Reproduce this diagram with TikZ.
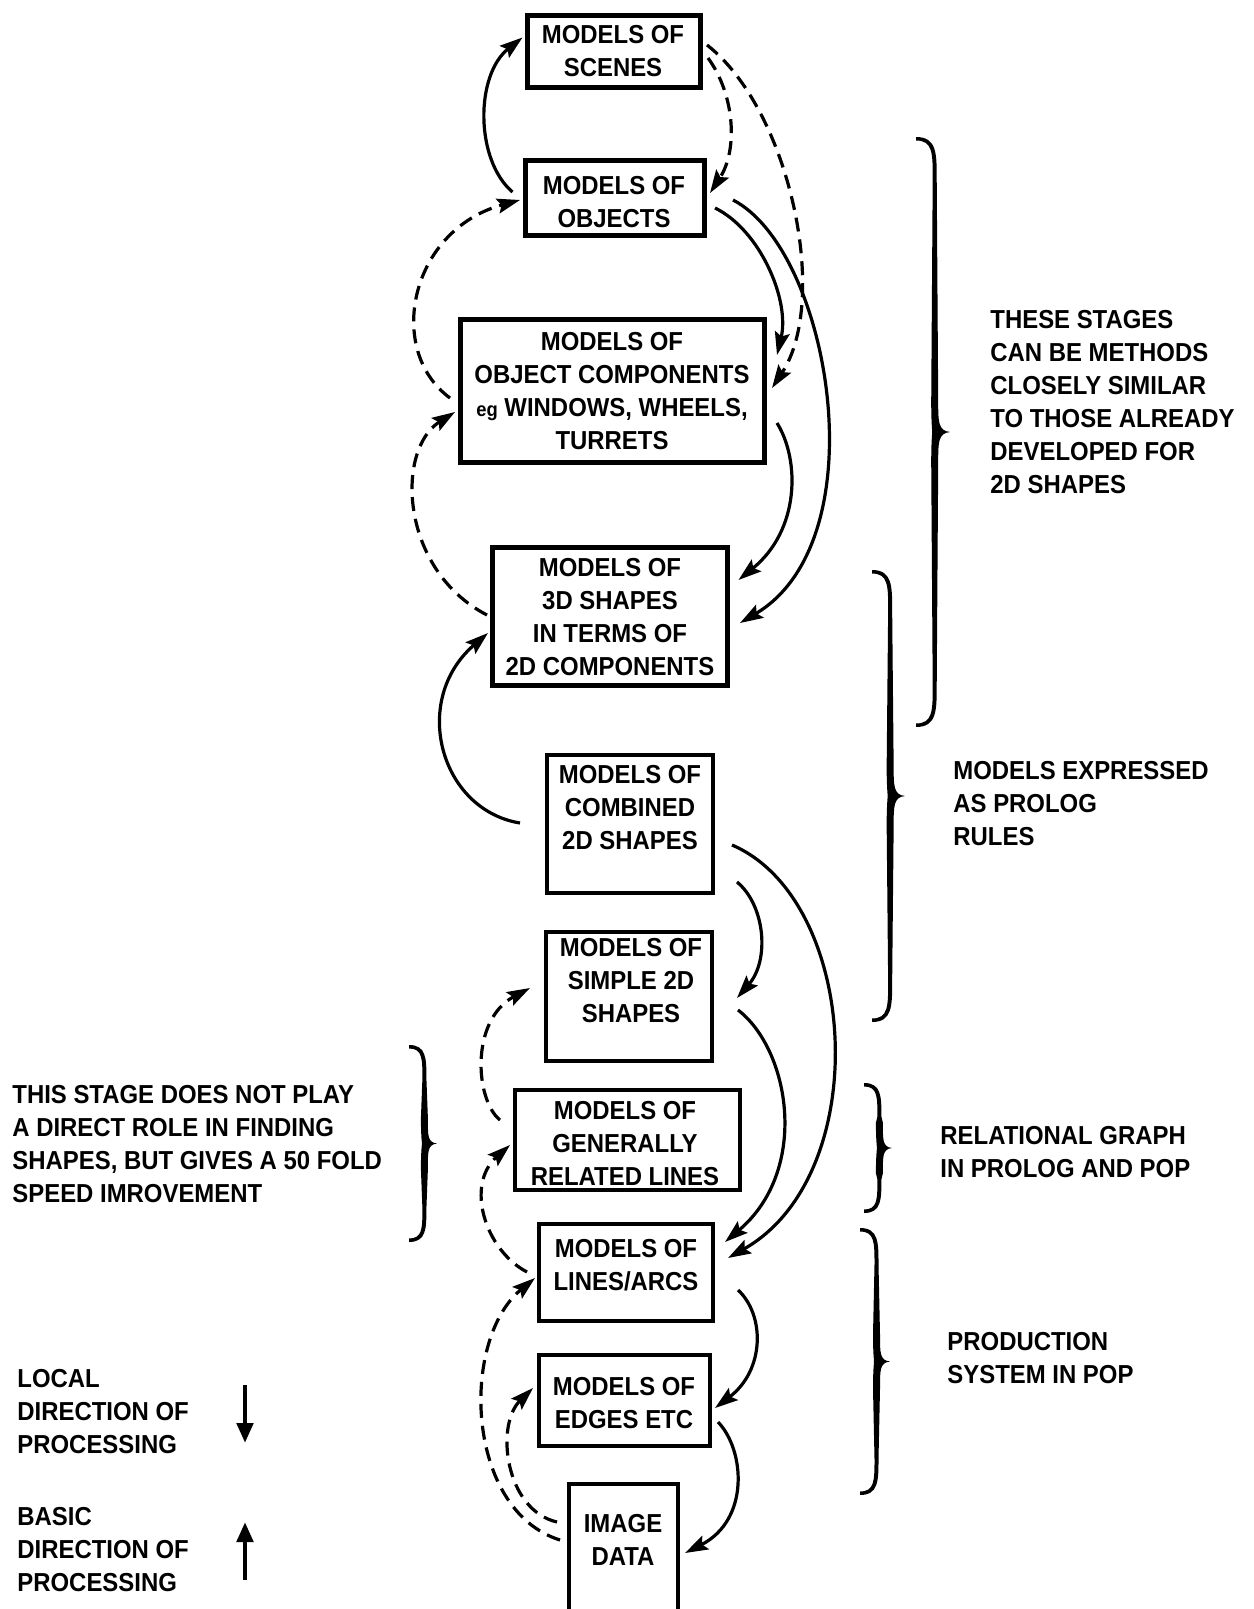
\documentclass[tikz,border=0pt]{standalone}
\usepackage{fontspec}
\setmainfont{Liberation Sans}[FakeStretch=0.92]
\usetikzlibrary{arrows.meta,calc}
\newcommand\hbrace[4]{%
  \pgfmathsetmacro\hbM{(#2+#3)/2}%
  \pgfmathsetmacro\hbS{#1+0.55*#4}%
  \pgfmathsetmacro\hbT{#1+#4}%
  \pgfmathsetmacro\hbR{1.2*#4}%
  \pgfmathsetmacro\hbQ{0.9*#4}%
  \fill (#1,#2) .. controls (\hbS+2,#2) and (\hbS+2,#2+0.4*\hbR) .. (\hbS+2,#2+\hbR)
    -- (\hbS+3.5,\hbM-\hbQ) .. controls (\hbS+3.5,\hbM-0.35*\hbQ) and (\hbT-0.35*#4,\hbM-1) .. (\hbT,\hbM)
    .. controls (\hbT-0.35*#4,\hbM+1) and (\hbS+3.5,\hbM+0.35*\hbQ) .. (\hbS+3.5,\hbM+\hbQ)
    -- (\hbS+2,#3-\hbR) .. controls (\hbS+2,#3-0.4*\hbR) and (\hbS+2,#3) .. (#1,#3)
    -- (#1,#3-3.5) .. controls (\hbS-2,#3-3.5) and (\hbS-2,#3-0.4*\hbR) .. (\hbS-2,#3-\hbR)
    -- (\hbS-3.5,\hbM+\hbQ) .. controls (\hbS-3.5,\hbM+0.3*\hbQ) and (\hbS-2.5,\hbM+2) .. (\hbS-2.5,\hbM)
    .. controls (\hbS-2.5,\hbM-2) and (\hbS-3.5,\hbM-0.3*\hbQ) .. (\hbS-3.5,\hbM-\hbQ)
    -- (\hbS-2,#2+\hbR) .. controls (\hbS-2,#2+0.4*\hbR) and (\hbS-2,#2+3.5) .. (#1,#2+3.5) -- cycle;}
\tikzset{
  box/.style={draw, line width=2.1pt, inner sep=0pt, outer sep=0pt},
  topbox/.style={box, line width=2.5pt},
  lbl/.style={font=\bfseries\fontsize{13}{16.5}\selectfont, align=center, inner sep=0pt},
  side/.style={lbl, align=left, anchor=west},
  sarrow/.style={line width=1.6pt, -{Stealth[length=11.5pt,width=7.5pt,inset=2pt]}},
  darrow/.style={sarrow, dash pattern=on 7pt off 4pt},
  legarrow/.style={line width=2.4pt, -{Triangle[length=10pt,width=8pt]}}
}
\begin{document}
\begin{tikzpicture}[x=0.5pt,y=-0.5pt]
\useasboundingbox (0,0) rectangle (1253,1609);
% boxes
\node[topbox, minimum width=86.5pt, minimum height=36pt] (scn) at (614,51.5) {};
\node[topbox, minimum width=89.5pt, minimum height=37.5pt] (obj) at (615,198) {};
\node[topbox, minimum width=152pt, minimum height=71.5pt] (oc) at (612.5,391) {};
\node[topbox, minimum width=117.5pt, minimum height=69pt] (tds) at (610,616.5) {};
\node[box, minimum width=83pt, minimum height=69pt] (comb) at (630,824) {};
\node[box, minimum width=83pt, minimum height=64.5pt] (simp) at (629,996.5) {};
\node[box, minimum width=112.5pt, minimum height=50pt] (gen) at (627.5,1140) {};
\node[box, minimum width=87pt, minimum height=48.5pt] (lin) at (626,1272.5) {};
\node[box, minimum width=85.5pt, minimum height=45.5pt] (edg) at (624.5,1400.5) {};
\node[box, minimum width=54.5pt, minimum height=75pt] (img) at (623.5,1559) {};
% box texts
\node[lbl] (scn-t) at (613,51.5) {MODELS OF\\SCENES};
\node[lbl] (obj-t) at (614,202) {MODELS OF\\OBJECTS};
\node[lbl] (oc-t) at (612,391) {MODELS OF\\OBJECT COMPONENTS\\{\fontsize{10}{16.5}\selectfont eg} WINDOWS, WHEELS,\\TURRETS};
\node[lbl] (tds-t) at (610,617) {MODELS OF\\3D SHAPES\\IN TERMS OF\\2D COMPONENTS};
\node[lbl] (comb-t) at (630,808) {MODELS OF\\COMBINED\\2D SHAPES};
\node[lbl] (simp-t) at (631,981) {MODELS OF\\SIMPLE 2D\\SHAPES};
\node[lbl] (gen-t) at (625,1144) {MODELS OF\\GENERALLY\\RELATED LINES};
\node[lbl] (lin-t) at (626,1265.5) {MODELS OF\\LINES/ARCS};
\node[lbl] (edg-t) at (624,1403) {MODELS OF\\EDGES ETC};
\node[lbl] (img-t) at (623,1539.5) {IMAGE\\DATA};
% side texts
\node[side] (s1) at (990,402.5) {THESE STAGES\\CAN BE METHODS\\CLOSELY SIMILAR\\TO THOSE ALREADY\\DEVELOPED FOR\\2D SHAPES};
\node[side] (s2) at (953,804) {MODELS EXPRESSED\\AS PROLOG\\RULES};
\node[side] (s3) at (940,1152.5) {RELATIONAL GRAPH\\IN PROLOG AND POP};
\node[side] (s4) at (947,1358.5) {PRODUCTION\\SYSTEM IN POP};
\node[side] (s5) at (12,1144) {THIS STAGE DOES NOT PLAY\\A DIRECT ROLE IN FINDING\\SHAPES, BUT GIVES A 50 FOLD\\SPEED IMROVEMENT};
\node[side] (s6) at (17,1412) {LOCAL\\DIRECTION OF\\PROCESSING};
\node[side] (s7) at (17,1550) {BASIC\\DIRECTION OF\\PROCESSING};
% braces
\hbrace{916}{137}{727}{34}
\hbrace{872}{570}{1022}{33}
\hbrace{864}{1083}{1213}{28}
\hbrace{860}{1228}{1495}{30}
\hbrace{409}{1045}{1242}{28}
% legend arrows
\coordinate (la1) at (245,1385);
\coordinate (la2) at (245,1443);
\coordinate (lb1) at (245,1580);
\coordinate (lb2) at (245,1522);
\draw[legarrow] (la1) -- (la2);
\draw[legarrow] (lb1) -- (lb2);
% connectors
\draw[sarrow] ($(obj.west)+(-13,-6)$) .. controls (475,160) and (475,75) .. ($(scn.west)+(-5,-14)$);
\draw[darrow] ($(scn.east)+(7.5,6.5)$) .. controls (735,95) and (738,150) .. ($(obj.east)+(5.5,-5)$);
\draw[darrow] ($(scn.east)+(6.5,-6.5)$) .. controls (790,110) and (830,300) .. ($(oc.east)+(7.5,-3)$);
\draw[sarrow] ($(obj.east)+(10.5,10)$) .. controls (760,230) and (790,300) .. ($(oc.east)+(12.5,-36)$);
\draw[sarrow] ($(obj.east)+(28.5,2)$) .. controls (830,250) and (880,540) .. ($(tds.east)+(12.5,6.5)$);
\draw[darrow] ($(oc.west)+(-10.5,7)$) .. controls (385,350) and (410,230) .. ($(obj.west)+(-5.5,2)$);
\draw[darrow] ($(tds.west)+(-5.5,-1.5)$) .. controls (400,570) and (395,450) .. ($(oc.west)+(-5.5,21)$);
\draw[sarrow] ($(oc.east)+(12.5,32)$) .. controls (800,460) and (800,530) .. ($(tds.east)+(11,-36.5)$);
\draw[sarrow] ($(comb.west)+(-27,-1)$) .. controls (440,810) and (410,700) .. ($(tds.west)+(-4.5,16.5)$);
\draw[sarrow] ($(comb.east)+(24,58)$) .. controls (765,905) and (770,960) .. ($(simp.east)+(25,1.5)$);
\draw[sarrow] ($(comb.east)+(19,21)$) .. controls (860,900) and (875,1175) .. ($(lin.east)+(15,-14.5)$);
\draw[sarrow] ($(simp.east)+(26,13.5)$) .. controls (790,1050) and (810,1170) .. ($(lin.east)+(12,-30.5)$);
\draw[darrow] ($(gen.west)+(-15,-20)$) .. controls (475,1100) and (470,1020) .. ($(simp.west)+(-16,-8.5)$);
\draw[darrow] ($(lin.west)+(-12,-0.5)$) .. controls (485,1250) and (465,1185) .. ($(gen.west)+(-5,5)$);
\draw[darrow] ($(img.north west)+(-9,56)$) .. controls (465,1510) and (460,1340) .. ($(lin.west)+(-4,5.5)$);
\draw[darrow] ($(img.north west)+(-12,38)$) .. controls (505,1510) and (495,1425) .. ($(edg.west)+(-6,-12.5)$);
\draw[sarrow] ($(lin.east)+(25,17.5)$) .. controls (765,1315) and (765,1370) .. ($(edg.east)+(5,7.5)$);
\draw[sarrow] ($(edg.east)+(8,21.5)$) .. controls (745,1450) and (750,1520) .. ($(img.north east)+(7,69)$);
\end{tikzpicture}
\end{document}
